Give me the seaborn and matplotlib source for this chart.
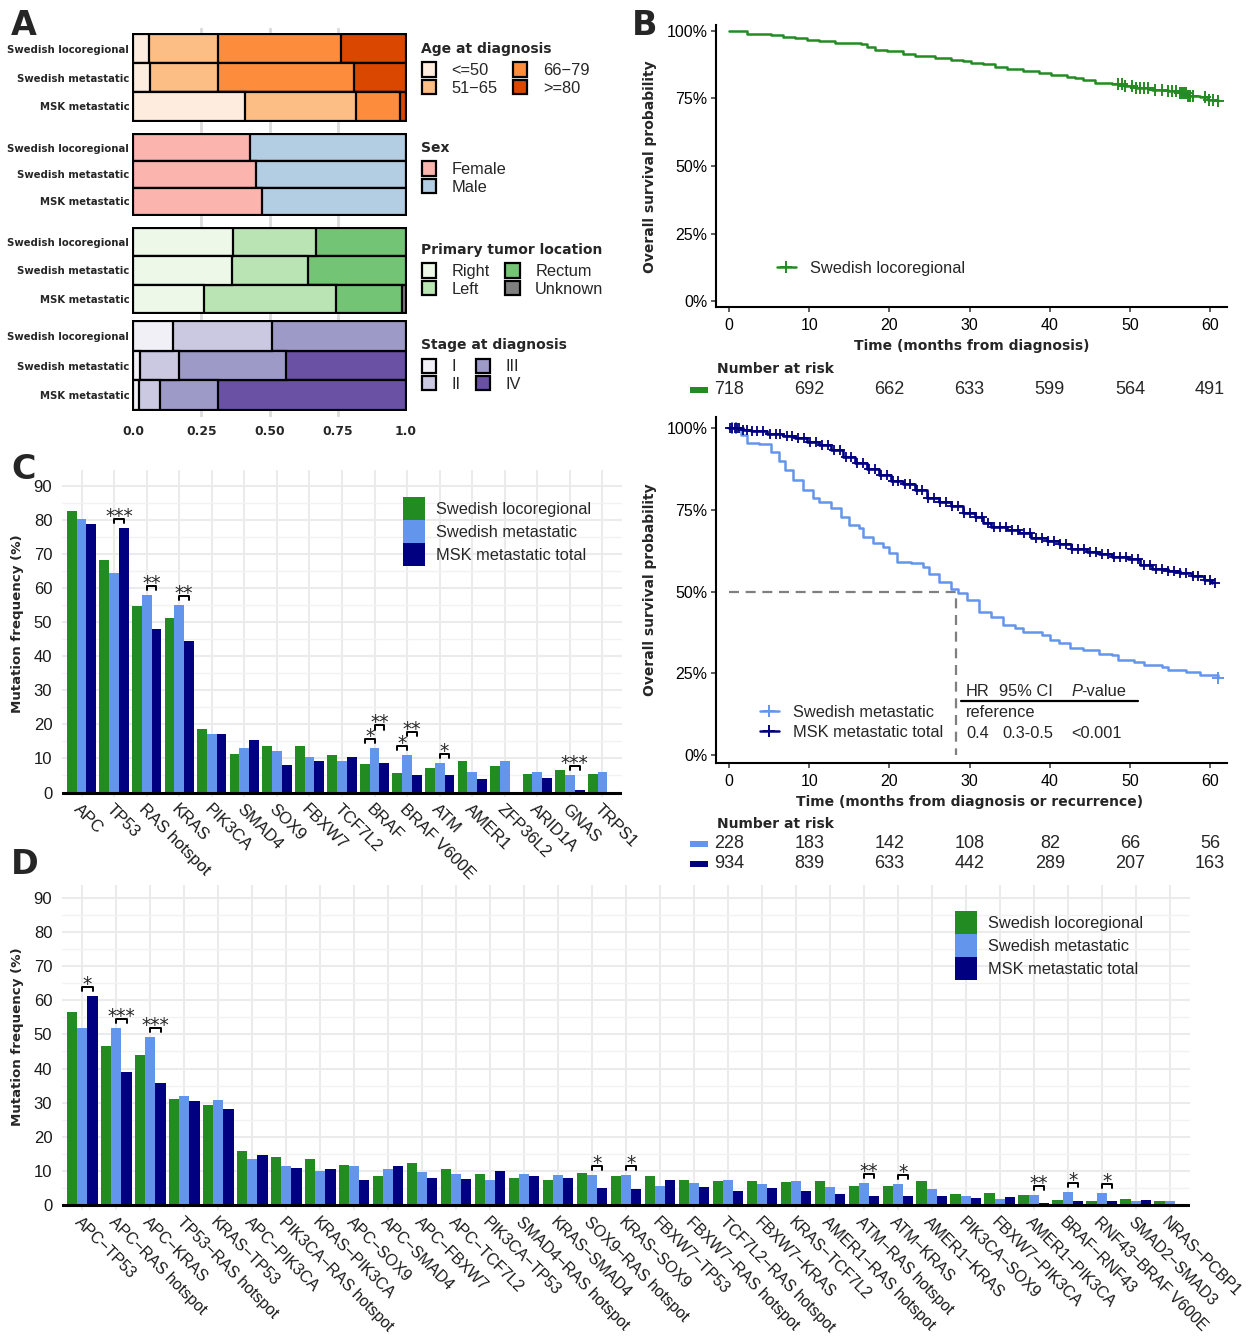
import numpy as np
import pandas as pd
import matplotlib
matplotlib.use("Agg")
import matplotlib.pyplot as plt
import matplotlib.transforms as mtransforms
import seaborn as sns
from matplotlib.patches import Patch, Rectangle
from matplotlib.lines import Line2D
from matplotlib.ticker import MultipleLocator

# ---------------------------------------------------------------- data
cohorts_A = ["Swedish locoregional", "Swedish metastatic", "MSK metastatic"]

age_groups = ["<=50", "51\u221265", "66\u221279", ">=80"]
age_loc = [0.056, 0.255, 0.452, 0.237]
age_met = [0.060, 0.251, 0.501, 0.188]
age_msk = [0.409, 0.408, 0.164, 0.019]

sex_groups = ["Female", "Male"]
sex_loc = [0.430, 0.570]
sex_met = [0.452, 0.548]
sex_msk = [0.471, 0.529]

loc_groups = ["Right", "Left", "Rectum", "Unknown"]
loc_loc = [0.367, 0.302, 0.331, 0.0]
loc_met = [0.363, 0.280, 0.357, 0.0]
loc_msk = [0.258, 0.486, 0.242, 0.014]

stage_groups = ["I", "II", "III", "IV"]
stage_loc = [0.147, 0.361, 0.492, 0.0]
stage_met = [0.024, 0.144, 0.393, 0.439]
stage_msk = [0.022, 0.076, 0.214, 0.688]

age_colors = ["#feedde", "#fdbe85", "#fd8d3c", "#d94701"]
sex_colors = ["#fbb4ae", "#b3cde3"]
loc_colors = ["#edf8e9", "#bae4b3", "#74c476", "#7f7f7f"]
stage_colors = ["#f2f0f7", "#cbc9e2", "#9e9ac8", "#6a51a3"]

# Kaplan-Meier: Swedish locoregional
km_loc_t = [0, 2.2, 5.2, 6.7, 8.2, 9.7, 11.2, 13.2, 14.7, 16.5, 17.2, 18.2, 19.7, 21.7,
            23.2, 25.7, 27.7, 29.2, 30.2, 31.7, 33.2, 34.7, 36.7, 38.7, 40.2, 42.2, 43.2,
            44.2, 45.7, 47.7, 49.2, 50.7, 52.7, 54.7, 56.2, 57.2, 58.7, 59.7, 61.0]
km_loc_s = [1.0, 0.989, 0.985, 0.979, 0.974, 0.967, 0.962, 0.957, 0.954, 0.950, 0.940,
            0.930, 0.924, 0.915, 0.909, 0.900, 0.893, 0.887, 0.881, 0.876, 0.868, 0.860,
            0.851, 0.844, 0.837, 0.831, 0.825, 0.817, 0.809, 0.804, 0.797, 0.787, 0.782,
            0.777, 0.770, 0.761, 0.755, 0.745, 0.739]
cens_loc = [48.5, 49.0, 49.4, 50.2, 50.8, 51.2, 51.7, 52.2, 53.1, 54.0, 54.8, 55.3, 55.8,
            56.2, 56.5, 56.8, 57.0, 57.2, 57.5, 57.9, 59.4, 59.9, 60.4, 61.0]

km_met_t = [0, 1.5, 2.2, 3.7, 5.2, 6.2, 7.0, 8.0, 9.2, 10.5, 11.2, 12.7, 14.0, 15.0, 16.2,
            16.7, 18.0, 19.2, 20.0, 21.0, 22.7, 24.2, 25.0, 26.2, 27.7, 28.5, 29.7, 31.2,
            32.7, 34.2, 35.7, 36.7, 39.0, 40.0, 41.2, 42.5, 44.2, 46.2, 47.7, 48.5, 50.5,
            51.7, 54.0, 54.7, 57.0, 58.7, 61.0]
km_met_s = [1.0, 0.98, 0.955, 0.952, 0.929, 0.899, 0.873, 0.843, 0.812, 0.786, 0.776,
            0.756, 0.730, 0.704, 0.694, 0.669, 0.648, 0.638, 0.618, 0.592, 0.587, 0.577,
            0.556, 0.531, 0.510, 0.495, 0.474, 0.439, 0.423, 0.398, 0.388, 0.377, 0.367,
            0.352, 0.342, 0.329, 0.321, 0.311, 0.306, 0.290, 0.285, 0.275, 0.270, 0.260,
            0.255, 0.246, 0.236]
cens_met = [0.4, 0.9, 61.0]

km_msk_t = [0, 1.7, 2.7, 4.7, 6.7, 8.2, 9.7, 11.2, 12.7, 14.2, 15.7, 17.2, 18.7, 20.2,
            21.7, 23.2, 24.7, 26.2, 27.7, 29.2, 30.7, 31.7, 32.7, 34.7, 36.2, 37.7, 39.7,
            41.2, 42.7, 44.7, 46.2, 47.7, 49.7, 51.2, 52.7, 54.7, 56.2, 57.7, 59.2, 60.2]
km_msk_s = [1.0, 0.996, 0.993, 0.984, 0.978, 0.970, 0.958, 0.950, 0.933, 0.914, 0.894,
            0.875, 0.858, 0.840, 0.830, 0.812, 0.786, 0.776, 0.763, 0.742, 0.730, 0.710,
            0.697, 0.689, 0.679, 0.666, 0.655, 0.646, 0.630, 0.623, 0.616, 0.607, 0.599,
            0.582, 0.569, 0.563, 0.559, 0.549, 0.536, 0.526]
cens_msk = [0.1, 0.4, 0.7, 1.0, 1.3, 1.7, 2.2, 2.9, 3.5, 4.3, 5.1, 5.8, 6.4, 7.2, 7.9, 8.6,
            9.3, 10.1, 10.8, 11.6, 12.3, 13.1, 13.8, 14.6, 15.2, 15.9, 16.7, 17.4, 18.2,
            18.9, 19.7, 20.4, 21.1, 21.9, 22.6, 23.4, 24.1, 24.8, 25.6, 26.3, 27.1, 27.8,
            28.5, 29.3, 30.0, 30.8, 31.5, 32.3, 33.0, 33.8, 34.5, 35.3, 36.0, 36.8, 37.5,
            38.3, 39.0, 39.8, 40.5, 41.3, 42.0, 42.8, 43.5, 44.3, 45.0, 45.8, 46.5, 47.3,
            48.0, 48.8, 49.5, 50.3, 51.0, 51.8, 52.5, 53.3, 54.0, 54.8, 55.5, 56.3, 57.0,
            57.8, 58.5, 59.3, 60.0, 60.6]
median_met = 28.3

risk_times = [0, 10, 20, 30, 40, 50, 60]
risk_loc = [718, 692, 662, 633, 599, 564, 491]
risk_met = [228, 183, 142, 108, 82, 66, 56]
risk_msk = [934, 839, 633, 442, 289, 207, 163]

hr_header = ["HR", "95% CI", "P", "-value"]
hr_ref = "reference"
hr_row = ["0.4", "0.3-0.5", "<0.001"]

bar_cohorts = ["Swedish locoregional", "Swedish metastatic", "MSK metastatic total"]

genes_C = ["APC", "TP53", "RAS hotspot", "KRAS", "PIK3CA", "SMAD4", "SOX9", "FBXW7",
           "TCF7L2", "BRAF", "BRAF V600E", "ATM", "AMER1", "ZFP36L2", "ARID1A", "GNAS", "TRPS1"]
loc_C = [82.6, 68.3, 54.8, 51.2, 18.6, 11.3, 13.6, 13.6, 11.0, 8.3, 5.7, 7.1, 9.2, 7.7, 5.4, 6.6, 5.4]
met_C = [80.2, 64.4, 58.0, 55.0, 17.1, 13.0, 12.1, 10.4, 9.2, 13.0, 11.0, 8.6, 6.0, 9.2, 6.0, 5.1, 6.0]
msk_C = [78.8, 77.7, 47.9, 44.5, 17.1, 15.4, 8.0, 9.2, 10.4, 8.6, 5.1, 5.1, 3.9, 0.0, 4.2, 0.7, 0.0]
sig_C_genes = ["TP53", "RAS hotspot", "KRAS", "BRAF", "BRAF", "BRAF V600E", "BRAF V600E", "ATM", "GNAS"]
sig_C_pairs = ["bn", "bn", "bn", "gb", "bn", "gb", "bn", "bn", "bn"]
sig_C_labels = ["***", "**", "**", "*", "**", "*", "**", "*", "***"]
sig_C_levels = [0, 0, 0, 0, 1, 0, 1, 0, 0]

M = "\u2212"
pairs_D = ["APC" + M + "TP53", "APC" + M + "RAS hotspot", "APC" + M + "KRAS", "TP53" + M + "RAS hotspot",
           "KRAS" + M + "TP53", "APC" + M + "PIK3CA", "PIK3CA" + M + "RAS hotspot", "KRAS" + M + "PIK3CA",
           "APC" + M + "SOX9", "APC" + M + "SMAD4", "APC" + M + "FBXW7", "APC" + M + "TCF7L2",
           "PIK3CA" + M + "TP53", "SMAD4" + M + "RAS hotspot", "KRAS" + M + "SMAD4", "SOX9" + M + "RAS hotspot",
           "KRAS" + M + "SOX9", "FBXW7" + M + "TP53", "FBXW7" + M + "RAS hotspot", "TCF7L2" + M + "RAS hotspot",
           "FBXW7" + M + "KRAS", "KRAS" + M + "TCF7L2", "AMER1" + M + "RAS hotspot", "ATM" + M + "RAS hotspot",
           "ATM" + M + "KRAS", "AMER1" + M + "KRAS", "PIK3CA" + M + "SOX9", "FBXW7" + M + "PIK3CA",
           "AMER1" + M + "PIK3CA", "BRAF" + M + "RNF43", "RNF43" + M + "BRAF V600E", "SMAD2" + M + "SMAD3",
           "NRAS" + M + "PCBP1"]
loc_D = [56.6, 46.7, 44.0, 31.1, 29.4, 15.8, 14.1, 13.5, 11.7, 8.5, 12.3, 10.6, 9.1, 7.9, 7.3, 9.4, 8.5,
         8.5, 7.3, 7.0, 7.0, 6.8, 7.0, 5.6, 5.6, 7.0, 3.2, 3.5, 2.9, 1.5, 1.2, 1.8, 1.2]
met_D = [52.0, 52.0, 49.3, 31.9, 30.8, 13.5, 11.4, 10.0, 11.4, 10.6, 9.7, 9.1, 7.3, 9.1, 8.8, 8.8, 8.8,
         5.6, 6.5, 7.3, 6.2, 7.0, 5.3, 6.5, 6.2, 4.7, 2.6, 1.8, 2.9, 3.8, 3.5, 1.2, 1.2]
msk_D = [61.4, 39.0, 35.8, 30.5, 28.2, 14.7, 10.9, 10.6, 7.3, 11.4, 7.9, 7.6, 10.0, 8.5, 7.9, 5.0, 4.7,
         7.3, 5.3, 4.1, 5.0, 4.1, 3.2, 2.6, 2.6, 2.6, 2.0, 2.3, 0.6, 1.2, 1.2, 1.5, 0.0]
sig_D_genes = [pairs_D[0], pairs_D[1], pairs_D[2], pairs_D[15], pairs_D[16], pairs_D[23], pairs_D[24],
               pairs_D[28], pairs_D[29], pairs_D[30]]
sig_D_pairs = ["bn"] * 10
sig_D_labels = ["*", "***", "***", "*", "*", "**", "*", "**", "*", "*"]
sig_D_levels = [0] * 10

GREEN, LBLUE, NAVY = "#228B22", "#6495ED", "#000080"
bar_colors = [GREEN, LBLUE, NAVY]

# ---------------------------------------------------------------- setup
sns.set_theme(style="white")
plt.rcParams["font.family"] = ["Liberation Sans", "DejaVu Sans"]
plt.rcParams["axes.unicode_minus"] = True

W, H = 1260, 1337
fig = plt.figure(figsize=(W / 100, H / 100), dpi=100)
fig.patch.set_facecolor("white")


def fx(x):
    return x / W


def fy(y):
    return 1 - y / H


def add_ax(l, t, r, b):
    return fig.add_axes([l / W, 1 - b / H, (r - l) / W, (b - t) / H])


BOLD = dict(family="DejaVu Sans", weight="bold")


def panel_letter(x, y, s):
    fig.text(fx(x), fy(y), s, fontsize=24, ha="left", va="baseline", **BOLD)


# ---------------------------------------------------------------- panel A
bgA = add_ax(132, 28, 407, 417)
bgA.set_facecolor("none")
bgA.set_xlim(-0.005, 1.005)
bgA.set_ylim(0, 1)
for s in bgA.spines.values():
    s.set_visible(False)
for v in [0.25, 0.5, 0.75]:
    bgA.axvline(v, color="#dcdcdc", lw=2.0, zorder=0)
bgA.set_xticks([0, 0.25, 0.5, 0.75, 1.0])
bgA.set_xticklabels(["0.0", "0.25", "0.50", "0.75", "1.0"], fontsize=8.8, **BOLD)
bgA.set_yticks([])
bgA.tick_params(axis="x", length=0, pad=6)

panelsA = [
    ("Age at diagnosis", age_groups, [age_loc, age_met, age_msk], age_colors, (33, 122), 2, 49),
    ("Sex", sex_groups, [sex_loc, sex_met, sex_msk], sex_colors, (133, 216), 1, 148),
    ("Primary tumor location", loc_groups, [loc_loc, loc_met, loc_msk], loc_colors, (227, 314), 2, 250),
    ("Stage at diagnosis", stage_groups, [stage_loc, stage_met, stage_msk], stage_colors, (320, 411), 2, 345),
]
for title, groups, shares, colors, (t, b), ncol, ty in panelsA:
    ax = add_ax(132, t, 407, b)
    ax.set_facecolor("none")
    cum = np.cumsum(np.array(shares), axis=1)
    for k in reversed(range(len(groups))):
        df = pd.DataFrame({"cohort": cohorts_A, "x": cum[:, k]})
        sns.barplot(data=df, x="x", y="cohort", order=cohorts_A, orient="h", color=colors[k],
                    saturation=1, width=1.0, edgecolor="black", linewidth=1.6,
                    errorbar=None, ax=ax)
    ax.set_xlim(-0.005, 1.005)
    ax.set_ylim(2.54, -0.54)
    for s in ax.spines.values():
        s.set_visible(False)
    ax.set_xticks([])
    ax.set_xlabel("")
    ax.set_ylabel("")
    ax.tick_params(axis="y", length=0, pad=2)
    for lab in ax.get_yticklabels():
        lab.set_fontfamily("DejaVu Sans")
        lab.set_fontweight("bold")
        lab.set_fontsize(7.3)
    fig.text(fx(421), fy(ty), title, ha="left", va="center", fontsize=10, **BOLD)
    handles = [Patch(facecolor=c, edgecolor="black", linewidth=1.6) for c in colors]
    ax.legend(handles, groups, ncol=ncol, loc="upper left",
              bbox_to_anchor=(fx(422), fy(ty + 13.5)), bbox_transform=fig.transFigure,
              frameon=False, fontsize=11.8, handlelength=0.86, handleheight=0.97,
              handletextpad=0.95, labelspacing=0.1, columnspacing=0.95, borderpad=0,
              borderaxespad=0)

panel_letter(11, 35, "A")


# ---------------------------------------------------------------- panel B
def step_at(ts, ss, q):
    idx = np.searchsorted(np.asarray(ts), np.asarray(q), side="right") - 1
    return np.asarray(ss)[idx]


def km_axes(ax, ylo, yhi):
    ax.set_xlim(-1.62, 62.1)
    ax.set_ylim(ylo, yhi)
    ax.set_xticks(risk_times)
    ax.set_yticks([0, 0.25, 0.5, 0.75, 1.0])
    ax.set_yticklabels(["0%", "25%", "50%", "75%", "100%"])
    for side in ["top", "right"]:
        ax.spines[side].set_visible(False)
    for side in ["left", "bottom"]:
        ax.spines[side].set_color("black")
        ax.spines[side].set_linewidth(1.5)
    ax.tick_params(axis="both", direction="out", length=3.6, width=1.1, color="#333333",
                   labelsize=11.5, labelcolor="black", pad=2.5)
    ax.tick_params(axis="x", bottom=True, pad=4.5)
    ax.tick_params(axis="y", left=True)
    ax.set_xlabel("")
    ax.set_ylabel("")
    ax.set_facecolor("white")


axB1 = add_ax(716, 25, 1227, 307)
sns.lineplot(x=km_loc_t, y=km_loc_s, drawstyle="steps-post", color=GREEN, lw=1.8,
             estimator=None, sort=False, legend=False, ax=axB1)
axB1.plot(cens_loc, step_at(km_loc_t, km_loc_s, cens_loc), "+", color=GREEN, ms=8, mew=1.4)
km_axes(axB1, -0.022, 1.022)
axB1.legend([Line2D([], [], color=GREEN, lw=1.8, marker="+", ms=8, mew=1.4)],
            ["Swedish locoregional"], loc="center left", bbox_to_anchor=(fx(777), fy(268)),
            bbox_transform=fig.transFigure, frameon=False, fontsize=11.8,
            handlelength=1.15, handletextpad=0.85, borderpad=0, borderaxespad=0)

fig.text(fx(650), fy(167), "Overall survival probability", rotation=90, ha="center",
         va="center", fontsize=10, **BOLD)
fig.text(fx(972), fy(346), "Time (months from diagnosis)", ha="center", va="center",
         fontsize=10, **BOLD)
fig.text(fx(717), fy(369), "Number at risk", ha="left", va="center", fontsize=10, **BOLD)

trB1 = mtransforms.blended_transform_factory(axB1.transData, fig.transFigure)
for tt, n in zip(risk_times, risk_loc):
    fig.text(tt, fy(390), str(n), transform=trB1, ha="center", va="center", fontsize=13)
fig.add_artist(Rectangle((fx(690), fy(393)), 18 / W, 6 / H, transform=fig.transFigure,
                         facecolor=GREEN, edgecolor="none"))

axB2 = add_ax(716, 417, 1227, 763)
axB2.plot([0, median_met, median_met], [0.5, 0.5, 0.0], color="#7f7f7f", lw=1.6,
          dashes=(4.5, 3), zorder=1)
sns.lineplot(x=km_met_t, y=km_met_s, drawstyle="steps-post", color=LBLUE, lw=1.8,
             estimator=None, sort=False, legend=False, ax=axB2)
sns.lineplot(x=km_msk_t, y=km_msk_s, drawstyle="steps-post", color=NAVY, lw=1.9,
             estimator=None, sort=False, legend=False, ax=axB2)
axB2.plot(cens_met, step_at(km_met_t, km_met_s, cens_met), "+", color=LBLUE, ms=8, mew=1.4)
axB2.plot(cens_msk, step_at(km_msk_t, km_msk_s, cens_msk), "+", color=NAVY, ms=7, mew=1.3)
km_axes(axB2, -0.024, 1.035)
axB2.legend([Line2D([], [], color=LBLUE, lw=1.8, marker="+", ms=8, mew=1.4),
             Line2D([], [], color=NAVY, lw=1.8, marker="+", ms=8, mew=1.4)],
            ["Swedish metastatic", "MSK metastatic total"], loc="center left",
            bbox_to_anchor=(fx(760), fy(722.5)), bbox_transform=fig.transFigure, frameon=False,
            fontsize=11.8, handlelength=1.15, handletextpad=0.85, labelspacing=0.28,
            borderpad=0, borderaxespad=0)

fig.text(fx(966), fy(691), hr_header[0], ha="left", va="center", fontsize=11.8)
fig.text(fx(999), fy(691), hr_header[1], ha="left", va="center", fontsize=11.8)
fig.text(fx(1072), fy(691), hr_header[2], ha="left", va="center", fontsize=11.8, style="italic")
fig.text(fx(1081), fy(691), hr_header[3], ha="left", va="center", fontsize=11.8)
fig.add_artist(Line2D([fx(961), fx(1138)], [fy(701), fy(701)], color="black", lw=1.6,
                      transform=fig.transFigure))
fig.text(fx(966), fy(712), hr_ref, ha="left", va="center", fontsize=11.8)
fig.text(fx(966), fy(734), hr_row[0], ha="left", va="center", fontsize=11.8)
fig.text(fx(1002), fy(734), hr_row[1], ha="left", va="center", fontsize=11.8)
fig.text(fx(1071), fy(734), hr_row[2], ha="left", va="center", fontsize=11.8)

fig.text(fx(650), fy(590), "Overall survival probability", rotation=90, ha="center",
         va="center", fontsize=10, **BOLD)
fig.text(fx(970), fy(802), "Time (months from diagnosis or recurrence)", ha="center",
         va="center", fontsize=10, **BOLD)
fig.text(fx(717), fy(824), "Number at risk", ha="left", va="center", fontsize=10, **BOLD)
trB2 = mtransforms.blended_transform_factory(axB2.transData, fig.transFigure)
for tt, n1, n2 in zip(risk_times, risk_met, risk_msk):
    fig.text(tt, fy(844), str(n1), transform=trB2, ha="center", va="center", fontsize=13)
    fig.text(tt, fy(864), str(n2), transform=trB2, ha="center", va="center", fontsize=13)
fig.add_artist(Rectangle((fx(690), fy(847)), 18 / W, 6 / H, transform=fig.transFigure,
                         facecolor=LBLUE, edgecolor="none"))
fig.add_artist(Rectangle((fx(690), fy(867)), 18 / W, 6 / H, transform=fig.transFigure,
                         facecolor=NAVY, edgecolor="none"))
panel_letter(632, 35, "B")

# ---------------------------------------------------------------- panels C & D
offsets = {"g": -0.3, "b": 0.0, "n": 0.3}


def bar_panel(rect, genes, vals, ylim, leg_xy, sig, xfs):
    ax = add_ax(*rect)
    df = pd.DataFrame({
        "gene": genes * 3,
        "cohort": sum([[c] * len(genes) for c in bar_cohorts], []),
        "freq": vals[0] + vals[1] + vals[2],
    })
    ax.set_axisbelow(True)
    sns.barplot(data=df, x="gene", y="freq", hue="cohort", order=genes, hue_order=bar_cohorts,
                palette=bar_colors, saturation=1, width=0.9, errorbar=None, legend=False,
                linewidth=0, ax=ax)
    ax.set_xlim(-0.6, len(genes) - 0.4)
    ax.set_ylim(*ylim)
    ax.set_yticks(range(0, 100, 10))
    ax.yaxis.set_minor_locator(MultipleLocator(5))
    ax.grid(True, axis="x", which="major", color="#ebebeb", lw=1.5)
    ax.grid(True, axis="y", which="major", color="#ebebeb", lw=1.5)
    ax.grid(True, axis="y", which="minor", color="#f2f2f2", lw=1.0)
    ax.axhline(0, color="black", lw=2.2, zorder=3)
    for s in ax.spines.values():
        s.set_visible(False)
    ax.set_facecolor("white")
    ax.set_xlabel("")
    ax.set_ylabel("")
    ax.tick_params(axis="both", which="both", length=0)
    ax.tick_params(axis="y", labelsize=12, pad=7, labelcolor="#1a1a1a")
    ax.set_xticks(range(len(genes)))
    ax.set_xticklabels(genes, rotation=-45, ha="left", va="top", rotation_mode="anchor",
                       fontsize=xfs, color="#1a1a1a")
    ax.tick_params(axis="x", pad=3)
    handles = [Patch(facecolor=c, edgecolor="none") for c in bar_colors]
    ax.legend(handles, bar_cohorts, loc="upper left", bbox_to_anchor=(fx(leg_xy[0]), fy(leg_xy[1])),
              bbox_transform=fig.transFigure, frameon=False, fontsize=11.8, handlelength=1.34,
              handleheight=1.78, handletextpad=0.7, labelspacing=0.0, borderpad=0, borderaxespad=0)
    idx = {"g": 0, "b": 1, "n": 2}
    for g, p, lab, lev in zip(*sig):
        i = genes.index(g)
        a, b = p[0], p[1]
        top = max(vals[idx[a]][i], vals[idx[b]][i]) + 2.6 + 4.1 * lev
        x1, x2 = i + offsets[a], i + offsets[b]
        ax.plot([x1, x1, x2, x2], [top - 1.2, top, top, top - 1.2], color="black", lw=1.4,
                zorder=4)
        ax.annotate(lab, (0.5 * (x1 + x2), top), xytext=(0, -2.2), textcoords="offset points",
                    ha="center", va="baseline", fontsize=13.5, family="DejaVu Sans", zorder=4)
    return ax


axC = bar_panel((62, 470, 622, 797), genes_C, [loc_C, met_C, msk_C], (-1.32, 94.7), (403, 497),
                (sig_C_genes, sig_C_pairs, sig_C_labels, sig_C_levels), 12)
fig.text(fx(18), fy(624), "Mutation frequency (%)", rotation=90, ha="center", va="center",
         fontsize=9.6, **BOLD)
panel_letter(11, 479, "C")

axD = bar_panel((62, 885, 1190, 1210), pairs_D, [loc_D, met_D, msk_D], (-1.47, 93.8), (955, 911),
                (sig_D_genes, sig_D_pairs, sig_D_labels, sig_D_levels), 11.4)
fig.text(fx(18), fy(1037), "Mutation frequency (%)", rotation=90, ha="center", va="center",
         fontsize=9.6, **BOLD)
panel_letter(11, 874, "D")

fig.savefig("out.png", dpi=100, facecolor="white")
